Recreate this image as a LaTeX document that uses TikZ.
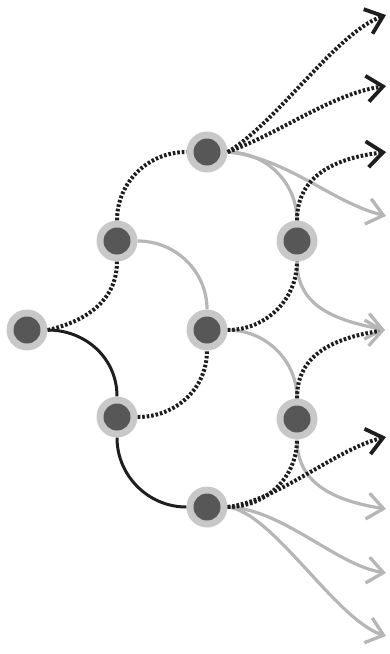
\documentclass[tikz,border=0pt]{standalone}
\usetikzlibrary{arrows.meta}
\definecolor{ring}{HTML}{C8C8C8}
\definecolor{core}{HTML}{575757}
\definecolor{lgray}{HTML}{B6B6B6}
\definecolor{ink}{HTML}{1E1E1E}
\begin{document}
\begin{tikzpicture}[x=1pt,y=-1pt,
  state/.style={circle, fill=ring, minimum size=41pt, inner sep=0pt,
    path picture={\fill[core] (path picture bounding box.center) circle (13.5pt);}},
  up/.style={draw=ink, line width=4pt, dash pattern=on 2.6pt off 1.9pt},
  down/.style={draw=lgray, line width=3.2pt},
  firm/.style={draw=ink, line width=3pt},
  blackhead/.style={-{Straight Barb[length=16pt,width=26pt,line width=3.8pt]}},
  grayhead/.style={-{Straight Barb[length=16pt,width=26pt,line width=3.3pt,color=lgray]}},
]
\path[use as bounding box] (0,0) rectangle (390,654);

\node[state] (A)  at (27,330) {};
\node[state] (B1) at (117,241) {};
\node[state] (B2) at (117,417) {};
\node[state] (C1) at (207,152) {};
\node[state] (C2) at (207,330) {};
\node[state] (C3) at (207,507) {};
\node[state] (D1) at (297,241) {};
\node[state] (D2) at (297,419) {};

\coordinate (o1) at (386,15);
\coordinate (o2) at (386,86);
\coordinate (o3) at (386,152);
\coordinate (o4) at (386,216);
\coordinate (o5) at (385,330);
\coordinate (o6) at (386,437);
\coordinate (o7) at (386,509);
\coordinate (o8) at (386,573);
\coordinate (o9) at (386,636);

% gray (down) moves
\draw[down] (B1.east) .. controls +(38,0) and +(0,-38) .. (C2.north);
\draw[down] (C1.east) .. controls +(38,0) and +(0,-38) .. (D1.north);
\draw[down] (C2.east) .. controls +(38,0) and +(0,-38) .. (D2.north);
\draw[down,grayhead] (C1.east) .. controls +(60,6) and +(-55,-14) .. (o4);
\draw[down,grayhead] (D1.south) .. controls +(0,45) and +(-50,-10) .. (o5);
\draw[down,grayhead] (D2.south) .. controls +(0,45) and +(-50,-8) .. (o7);
\draw[down,grayhead] (C3.east) .. controls +(55,2) and +(-50,-8) .. (o8);
\draw[down,grayhead] (C3.east) .. controls +(45,5) and +(-50,-16) .. (o9);

% dotted (up) moves
\draw[up] (A.east) .. controls +(36,-8) and +(0,40) .. (B1.south);
\draw[up] (B1.north) .. controls +(0,-38) and +(-38,0) .. (C1.west);
\draw[up] (B2.east) .. controls +(38,0) and +(0,38) .. (C2.south);
\draw[up] (C2.east) .. controls +(38,0) and +(0,38) .. (D1.south);
\draw[up] (C3.east) .. controls +(38,0) and +(0,38) .. (D2.south);
\draw[up,blackhead] (C1.east) .. controls +(50,-30) and +(-50,18) .. (o1);
\draw[up,blackhead] (C1.east) .. controls +(55,-20) and +(-55,8) .. (o2);
\draw[up,blackhead] (D1.north) .. controls +(0,-45) and +(-50,6) .. (o3);
\draw[up,grayhead] (D2.north) .. controls +(0,-45) and +(-50,8) .. (o5);
\draw[up,blackhead] (C3.east) .. controls +(50,-6) and +(-50,12) .. (o6);

% solid black moves
\draw[firm] (A.east) .. controls +(38,0) and +(0,-38) .. (B2.north);
\draw[firm] (B2.south) .. controls +(0,38) and +(-38,0) .. (C3.west);
\end{tikzpicture}
\end{document}
